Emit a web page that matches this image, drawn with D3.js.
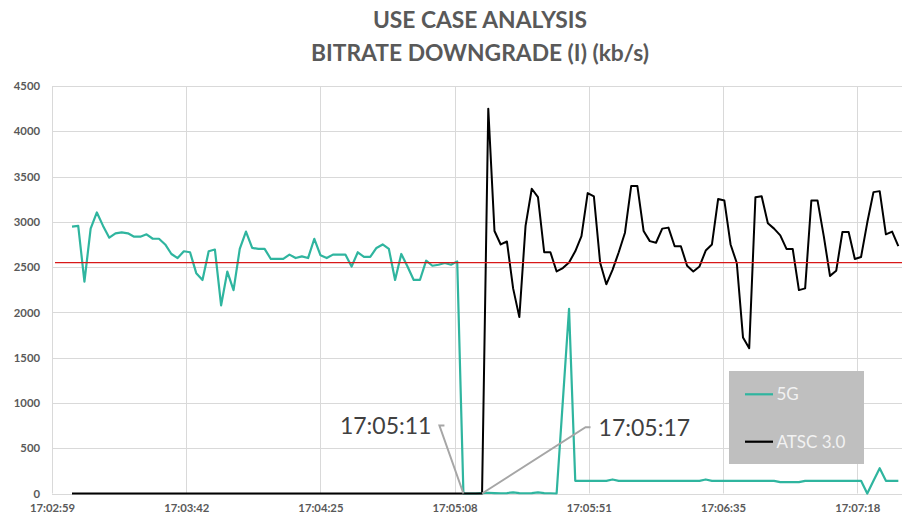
<!DOCTYPE html>
<html>
<head>
<meta charset="utf-8">
<script src="https://cdn.jsdelivr.net/npm/d3@7"></script>
<style>
  html, body { margin: 0; padding: 0; background: #ffffff; }
  svg { display: block; }
</style>
</head>
<body>
<svg id="chart" width="902" height="522"></svg>
<script>
// Bitrate (kb/s) of the same stream delivered over 5G and over ATSC 3.0.
// Samples are taken every 2 seconds starting at 17:03:05.
const titleLines = ["USE CASE ANALYSIS", "BITRATE DOWNGRADE (I) (kb/s)"];
const seriesNames = ["5G", "ATSC 3.0"];
const sampleStart = "17:03:05";
const sampleStepSeconds = 2;

const bitrate5G = [
  2948, 2955, 2340, 2925, 3104, 2955, 2825, 2873, 2884, 2873,
  2836, 2836, 2862, 2813, 2813, 2750, 2645, 2600, 2675, 2664,
  2433, 2358, 2675, 2694, 2078, 2451, 2246, 2701, 2892, 2712,
  2701, 2701, 2590, 2590, 2590, 2638, 2600, 2619, 2600, 2813,
  2630, 2600, 2638, 2638, 2638, 2507, 2664, 2612, 2612, 2712,
  2750, 2701, 2358, 2645, 2507, 2358, 2358, 2571, 2515, 2526,
  2545, 2526, 2563, 0, 0, 0, 5, 8, 5, 3,
  5, 12, 5, 3, 5, 12, 5, 3, 0, 1020,
  2040, 140, 140, 140, 140, 140, 140, 155, 140, 140,
  140, 140, 140, 140, 140, 140, 140, 140, 140, 140,
  140, 140, 155, 140, 140, 140, 140, 140, 140, 140,
  140, 140, 140, 140, 125, 125, 125, 125, 140, 140,
  140, 140, 140, 140, 140, 140, 140, 140, 0, 140,
  280, 140, 140, 140
];

const bitrateATSC = [
  0, 0, 0, 0, 0, 0, 0, 0, 0, 0,
  0, 0, 0, 0, 0, 0, 0, 0, 0, 0,
  0, 0, 0, 0, 0, 0, 0, 0, 0, 0,
  0, 0, 0, 0, 0, 0, 0, 0, 0, 0,
  0, 0, 0, 0, 0, 0, 0, 0, 0, 0,
  0, 0, 0, 0, 0, 0, 0, 0, 0, 0,
  0, 0, 0, 0, 0, 0, 0, 4250, 2899, 2750,
  2783, 2265, 1948, 2955, 3365, 3272, 2664, 2664, 2452, 2489,
  2552, 2675, 2843, 3317, 3280, 2552, 2310, 2470, 2664, 2880,
  3395, 3395, 2899, 2787, 2769, 2925, 2936, 2731, 2731, 2515,
  2452, 2507, 2683, 2750, 3253, 3235, 2750, 2545, 1724, 1605,
  3272, 3283, 2985, 2925, 2851, 2701, 2701, 2246, 2265, 3235,
  3235, 2843, 2403, 2459, 2888, 2888, 2590, 2612, 2992, 3328,
  3339, 2862, 2892, 2731
];

// Reference level drawn across the plot (kb/s)
const referenceLevel = 2550;

// Value axis
const yTicks = [0, 500, 1000, 1500, 2000, 2500, 3000, 3500, 4000, 4500];

// Time axis, in fractions of a day: minimum 0.7104, major unit 0.0005
const timeAxisMin = 0.7104;
const timeAxisMax = 0.7136;
const timeAxisStep = 0.0005;
const timeTickLabels = ["17:02:59", "17:03:42", "17:04:25", "17:05:08", "17:05:51", "17:06:35", "17:07:18"];

// Call-outs marking when each signal switches
const callouts = [
  { label: "17:05:11", time: "17:05:11" },
  { label: "17:05:17", time: "17:05:17" }
];

const colors = { g5: "#2fb59f", atsc: "#000000", ref: "#d81818", grid: "#d9d9d9", axisText: "#595959" };

function toDay(hms) {
  const [h, m, s] = hms.split(":").map(Number);
  return (h * 3600 + m * 60 + s) / 86400;
}

const t0 = toDay(sampleStart);
const points = (values) => values.map((v, i) => ({ t: t0 + i * sampleStepSeconds / 86400, v }));
const data5G = points(bitrate5G);
const dataATSC = points(bitrateATSC);

const svg = d3.select("#chart");
const plot = { left: 52, top: 86, bottom: 493.5 };
const pxPerStep = 134.2;
const plotRight = plot.left + (timeAxisMax - timeAxisMin) / timeAxisStep * pxPerStep;

const x = d3.scaleLinear().domain([timeAxisMin, timeAxisMax]).range([plot.left, plotRight]);
const y = d3.scaleLinear().domain([0, 4500]).range([plot.bottom, plot.top]);

const xTickValues = timeTickLabels.map((_, k) => timeAxisMin + k * timeAxisStep);

// Title
svg.append("g").selectAll("text").data(titleLines).join("text")
  .attr("x", 480)
  .attr("y", (d, i) => 27.5 + i * 33.5)
  .attr("text-anchor", "middle")
  .attr("font-family", "Lato, 'Open Sans', sans-serif")
  .attr("font-weight", "bold")
  .attr("font-size", 22.8)
  .attr("fill", colors.axisText)
  .text(d => d);

// Gridlines
const grid = svg.append("g");
grid.selectAll("line.h").data(yTicks).join("line")
  .attr("class", "h")
  .attr("x1", plot.left).attr("x2", plotRight)
  .attr("y1", d => Math.round(y(d)) + 0.5).attr("y2", d => Math.round(y(d)) + 0.5)
  .attr("stroke", colors.grid).attr("stroke-width", 1);
grid.selectAll("line.v").data(xTickValues).join("line")
  .attr("class", "v")
  .attr("x1", d => Math.round(x(d)) + 0.5).attr("x2", d => Math.round(x(d)) + 0.5)
  .attr("y1", plot.top).attr("y2", plot.bottom)
  .attr("stroke", colors.grid).attr("stroke-width", 1);

// Axes (labels only, gridlines carry the structure)
const yAxis = d3.axisLeft(y).tickValues(yTicks).tickSize(0).tickPadding(12).tickFormat(d3.format("d"));
svg.append("g")
  .attr("transform", `translate(${plot.left},0)`)
  .call(yAxis)
  .call(g => g.select(".domain").remove())
  .call(g => g.selectAll("text")
    .attr("font-family", "Lato, 'Open Sans', sans-serif")
    .attr("font-weight", "bold")
    .attr("font-size", 11.3)
    .attr("fill", colors.axisText));

const xAxis = d3.axisBottom(x).tickValues(xTickValues).tickSize(0).tickPadding(10)
  .tickFormat((d, i) => timeTickLabels[i]);
svg.append("g")
  .attr("transform", `translate(0,${plot.bottom})`)
  .call(xAxis)
  .call(g => g.select(".domain").remove())
  .call(g => g.selectAll("text")
    .attr("font-family", "Lato, 'Open Sans', sans-serif")
    .attr("font-weight", "bold")
    .attr("font-size", 11.3)
    .attr("fill", colors.axisText));

// Series lines
const line = d3.line().x(d => x(d.t)).y(d => y(d.v)).curve(d3.curveLinear);
svg.append("path").datum(data5G)
  .attr("d", line).attr("fill", "none")
  .attr("stroke", colors.g5).attr("stroke-width", 2.2).attr("stroke-linejoin", "round");
svg.append("path").datum(dataATSC)
  .attr("d", line).attr("fill", "none")
  .attr("stroke", colors.atsc).attr("stroke-width", 2).attr("stroke-linejoin", "round");

// Reference level
svg.append("line")
  .attr("x1", plot.left + 3).attr("x2", plotRight)
  .attr("y1", y(referenceLevel)).attr("y2", y(referenceLevel))
  .attr("stroke", colors.ref).attr("stroke-width", 1.2);

// Call-outs with leader lines
const calloutStyle = [
  { dx: -24, dy: -68, elbow: -19, anchor: "end", textDx: -8 },
  { dx: 103.5, dy: -66.3, elbow: 108.5, anchor: "start", textDx: 8 }
];
callouts.forEach((c, i) => {
  const pt = { x: x(toDay(c.time)), y: y(0) };
  const st = calloutStyle[i];
  const lx = pt.x + st.dx, ly = pt.y + st.dy;
  const ex = pt.x + st.elbow;
  svg.append("path")
    .attr("d", `M${pt.x},${pt.y}L${lx},${ly}L${ex},${ly}`)
    .attr("fill", "none").attr("stroke", "#a6a6a6").attr("stroke-width", 2);
  const tx = i === 0 ? Math.min(lx, ex) : Math.max(lx, ex);
  svg.append("text")
    .attr("x", tx + st.textDx).attr("y", ly + 8.5)
    .attr("text-anchor", st.anchor)
    .attr("font-family", "Lato, 'Open Sans', sans-serif")
    .attr("font-size", 23)
    .attr("fill", "#404040")
    .text(c.label);
});

// Legend
const legend = svg.append("g").attr("transform", "translate(729,371)");
legend.append("rect").attr("width", 135).attr("height", 93).attr("fill", "#bfbfbf");
const legendColors = [colors.g5, colors.atsc];
seriesNames.forEach((name, i) => {
  const row = legend.append("g").attr("transform", `translate(0,${23.3 + i * 47.4})`);
  row.append("line").attr("x1", 16).attr("x2", 44).attr("y1", 0).attr("y2", 0)
    .attr("stroke", legendColors[i]).attr("stroke-width", 2.2);
  row.append("text").attr("x", 47.5).attr("y", 6)
    .attr("font-family", "Lato, 'Open Sans', sans-serif")
    .attr("font-size", 17)
    .attr("fill", "#f2f2f2")
    .text(name);
});
</script>
</body>
</html>
